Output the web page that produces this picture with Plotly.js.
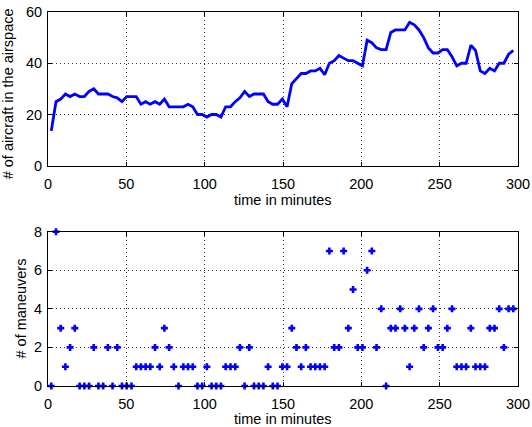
<!DOCTYPE html>
<html>
<head>
<meta charset="utf-8">
<script src="https://cdn.plot.ly/plotly-3.0.1.min.js"></script>
<style>html,body{margin:0;padding:0;background:#fff;}#chart{width:532px;height:427px;}</style>
</head>
<body>
<div id="chart"></div>
<script>
const timeMinutes = [2.1,5.1,8.1,11.1,14.1,17.1,20.2,23.2,26.2,29.2,32.2,35.2,38.2,41.2,44.2,47.2,50.2,53.3,56.3,59.3,62.3,65.3,68.3,71.3,74.3,77.3,80.3,83.3,86.4,89.4,92.4,95.4,98.4,101.4,104.4,107.4,110.4,113.4,116.5,119.5,122.5,125.5,128.5,131.5,134.5,137.5,140.5,143.5,146.5,149.6,152.6,155.6,158.6,161.6,164.6,167.6,170.6,173.6,176.6,179.6,182.7,185.7,188.7,191.7,194.7,197.7,200.7,203.7,206.7,209.7,212.7,215.8,218.8,221.8,224.8,227.8,230.8,233.8,236.8,239.8,242.8,245.8,248.9,251.9,254.9,257.9,260.9,263.9,266.9,269.9,272.9,275.9,278.9,282.0,285.0,288.0,291.0,294.0,297.0];

const aircraftCount = [13.6,25,26,28,27,28,27,27,29,30,
  28,28,28,27,26.5,25,27,27,27,24,
  25,24,25,24,26,23,23,23,23,24,
  23,20,20,19,20,20,19,23,23,25,
  26.5,29,27,28,28,28,25,24,24,26,
  23,32,34,36,36,37,37,38,35.5,40,
  41,43,42,41,41,40,39,49,48,46,
  45.3,45.3,52,53,53,53,56,55,53,50,
  46,44,44,45.3,45.3,42.5,39,40,40,47,
  45,37,36,38,37,40,40,43.5,45];

const maneuvers = [0,8,3,1,2,3,0,0,0,2,
  0,0,2,0,2,0,0,0,1,1,
  1,1,2,1,3,2,1,0,1,1,
  1,0,0,1,0,0,0,1,1,1,
  2,0,2,0,0,0,1,0,0,1,
  1,3,2,1,2,1,1,1,1,7,
  2,2,7,3,5,2,2,6,7,2,
  4,0,3,3,4,3,1,3,4,2,
  3,4,2,2,3,4,1,1,1,3,
  1,1,1,3,3,4,2,4,4];

const xTicks = [0,50,100,150,200,250,300];
const yTicksTop = [0,20,40,60];
const yTicksBottom = [0,2,4,6,8];

const xTitle = "time in minutes";
const yTitleTop = "# of aircraft in the airspace";
const yTitleBottom = "# of maneuvers";

const blue = "#0000ff";
const family = "Liberation Sans, Arial, sans-serif";
const tickFont = {family: family, size: 14.5, color: "#000"};
const titleFont = {family: family, size: 14.5, color: "#000"};

const traces = [
  {x: timeMinutes, y: aircraftCount, type: "scatter", mode: "lines",
   line: {color: blue, width: 2.8}, xaxis: "x", yaxis: "y", hoverinfo: "none"},
  {x: timeMinutes, y: maneuvers, type: "scatter", mode: "markers",
   marker: {symbol: "cross-thin", size: 5, color: blue, line: {color: blue, width: 2.6}},
   xaxis: "x2", yaxis: "y2", cliponaxis: false, hoverinfo: "none"}
];

const common = {ticks: "inside", ticklen: 4, tickcolor: "#000",
  showline: true, linecolor: "#000", linewidth: 1, mirror: "ticks",
  showgrid: true, gridcolor: "#333", griddash: "1px,3px", gridwidth: 1,
  zeroline: false, tickfont: tickFont, fixedrange: true};

function xAxis(anchor) {
  return Object.assign({anchor: anchor, domain: [0, 1], range: [0, 300], tickvals: xTicks,
    ticktext: xTicks.map(String), ticklabelstandoff: 5}, common);
}
function yAxis(anchor, dom, rng, vals) {
  return Object.assign({anchor: anchor, domain: dom, range: rng, tickvals: vals,
    ticktext: vals.map(String), ticklabelstandoff: 2}, common);
}

const layout = {
  width: 532, height: 427,
  margin: {l: 48, r: 14, t: 12, b: 41},
  paper_bgcolor: "#fff", plot_bgcolor: "#fff",
  showlegend: false, font: titleFont,
  xaxis: xAxis("y"),
  yaxis: yAxis("x", [0.589, 1], [0, 60], yTicksTop),
  xaxis2: xAxis("y2"),
  yaxis2: yAxis("x2", [0, 0.4126], [0, 8], yTicksBottom),
  annotations: [
    {text: xTitle, xref: "paper", yref: "paper", x: 0.5, y: 0.497, xanchor: "center", yanchor: "middle", showarrow: false, font: titleFont},
    {text: xTitle, xref: "paper", yref: "paper", x: 0.5, y: -0.088, xanchor: "center", yanchor: "middle", showarrow: false, font: titleFont},
    {text: yTitleTop, xref: "paper", yref: "paper", x: -0.085, y: 0.78, xanchor: "center", yanchor: "middle", textangle: -90, showarrow: false, font: titleFont},
    {text: yTitleBottom, xref: "paper", yref: "paper", x: -0.058, y: 0.2065, xanchor: "center", yanchor: "middle", textangle: -90, showarrow: false, font: titleFont}
  ]
};

Plotly.newPlot("chart", traces, layout, {staticPlot: true, displayModeBar: false});
</script>
</body>
</html>
